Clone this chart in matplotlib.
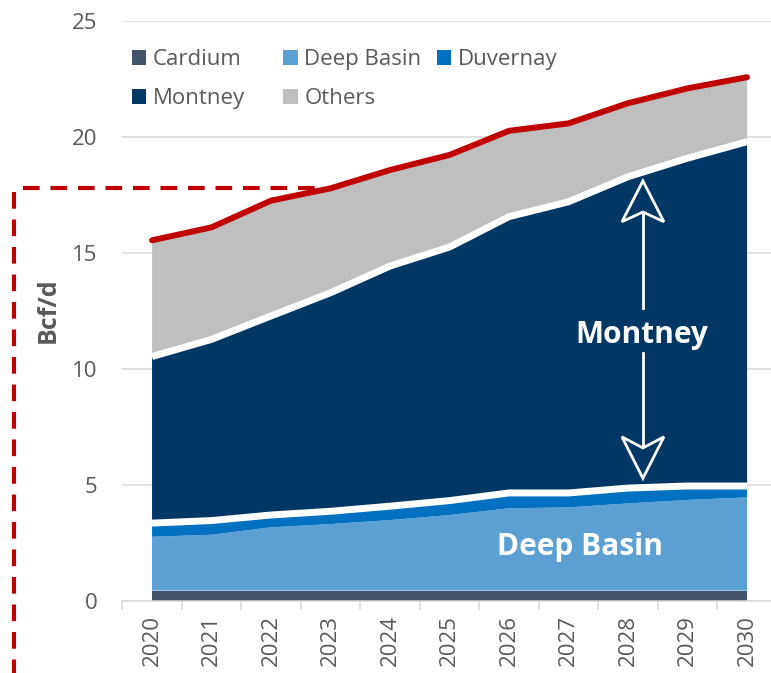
import matplotlib
matplotlib.use("Agg")
import matplotlib.pyplot as plt
from matplotlib.lines import Line2D
from matplotlib.patches import Polygon, Patch
import numpy as np

# Bcf/d by play
years = ['2020', '2021', '2022', '2023', '2024', '2025', '2026', '2027', '2028', '2029', '2030']
cardium = [0.46, 0.46, 0.46, 0.46, 0.46, 0.46, 0.46, 0.46, 0.46, 0.46, 0.46]
deep_basin = [2.32, 2.41, 2.73, 2.87, 3.04, 3.26, 3.55, 3.59, 3.76, 3.91, 4.02]
duvernay = [0.59, 0.61, 0.53, 0.55, 0.60, 0.62, 0.66, 0.62, 0.66, 0.60, 0.49]
montney = [7.18, 7.81, 8.58, 9.42, 10.35, 10.93, 11.91, 12.55, 13.42, 14.13, 14.84]
others = [5.01, 4.83, 4.97, 4.50, 4.14, 3.97, 3.70, 3.38, 3.17, 3.01, 2.78]

names = ['Cardium', 'Deep Basin', 'Duvernay', 'Montney', 'Others']
colors = ['#44546A', '#5B9FD3', '#0070C0', '#003764', '#BFBFBF']
grey_txt = '#595959'
red = '#C00000'

plt.rcParams['font.family'] = ['Open Sans', 'DejaVu Sans']

W, H = 771, 673
fig = plt.figure(figsize=(W / 100, H / 100), dpi=100)
ax = fig.add_axes([122.3 / W, (H - 601.3) / H, (776.8 - 122.3) / W, 580 / H])

x = np.arange(len(years))
series = [cardium, deep_basin, duvernay, montney, others]
ax.stackplot(x, series, colors=colors, labels=names, linewidth=0, zorder=2)
cum = np.cumsum(series, axis=0)
# white borders around montney, red total on top
ax.plot(x, cum[2], color='white', lw=5, solid_capstyle='butt', zorder=3)
ax.plot(x, cum[3], color='white', lw=5, solid_capstyle='butt', zorder=3)
ax.plot(x, cum[4], color=red, lw=4.3, solid_capstyle='round', zorder=4)

ax.set_xlim(-0.5, 10.5)
ax.set_ylim(0, 25)
ax.set_yticks(range(0, 26, 5))
ax.yaxis.grid(True, color='#D9D9D9', lw=1.1)
ax.set_axisbelow(True)
ax.tick_params(axis='y', length=0, pad=18, labelsize=16, labelcolor=grey_txt)

ax.set_xticks(x, years, rotation=90)
ax.set_xticks(np.arange(-0.5, 11, 1), minor=True)
ax.tick_params(axis='x', which='major', length=0, pad=10, labelsize=16, labelcolor=grey_txt)
ax.tick_params(axis='x', which='minor', length=6.5, width=1.1, color='#D9D9D9')

for s in ['top', 'right', 'left']:
    ax.spines[s].set_visible(False)
ax.spines['bottom'].set_color('#D9D9D9')
ax.spines['bottom'].set_linewidth(1.1)

fig.text(48 / W, 1 - 310.5 / H, 'Bcf/d', rotation=90, ha='center', va='center',
         fontsize=18, fontweight='bold', color=grey_txt)

# legend: three fixed-width columns like the original
handles = {n: Patch(facecolor=c, edgecolor='none') for n, c in zip(names, colors)}
cols = [['Cardium', 'Montney'], ['Deep Basin', 'Others'], ['Duvernay']]
for col, xp in zip(cols, [131.7, 283.3, 436.7]):
    fig.legend([handles[n] for n in col], col, loc='upper left',
               bbox_to_anchor=(xp / W, 1 - 49 / H), frameon=False, fontsize=16,
               handlelength=0.65, handleheight=0.65, handletextpad=0.3,
               labelspacing=0.82, borderpad=0, borderaxespad=0, labelcolor=grey_txt)

# montney double arrow
ax_x, hw = 8.25, 0.353
navy = colors[3]
ax.add_patch(Polygon([[ax_x, 18.12], [ax_x - hw, 16.36], [ax_x, 16.78], [ax_x + hw, 16.36]],
                     closed=True, facecolor=navy, edgecolor='white', lw=2, zorder=6))
ax.plot([ax_x, ax_x], [16.78, 12.64], color='white', lw=2, zorder=6)
ax.plot([ax_x, ax_x], [10.72, 6.61], color='white', lw=2, zorder=6)
ax.add_patch(Polygon([[ax_x, 5.30], [ax_x - hw, 7.09], [ax_x, 6.61], [ax_x + hw, 7.09]],
                     closed=True, facecolor=navy, edgecolor='white', lw=2, zorder=6))
ax.text(8.23, 11.48, 'Montney', color='white', fontsize=21.5, fontweight='bold',
        ha='center', va='center', zorder=7)
ax.text(7.19, 2.36, 'Deep Basin', color='white', fontsize=21.5, fontweight='bold',
        ha='center', va='center', zorder=7)

# dashed callout frame
dash = (0, (4.0, 2.6))
fig.add_artist(Line2D([23 / W, 318 / W], [1 - 188 / H, 1 - 188 / H], transform=fig.transFigure,
                      color=red, lw=3, linestyle=dash))
fig.add_artist(Line2D([14 / W, 14 / W], [1 - 192 / H, 0], transform=fig.transFigure,
                      color=red, lw=3, linestyle=dash))

fig.savefig('out.png', dpi=100)
